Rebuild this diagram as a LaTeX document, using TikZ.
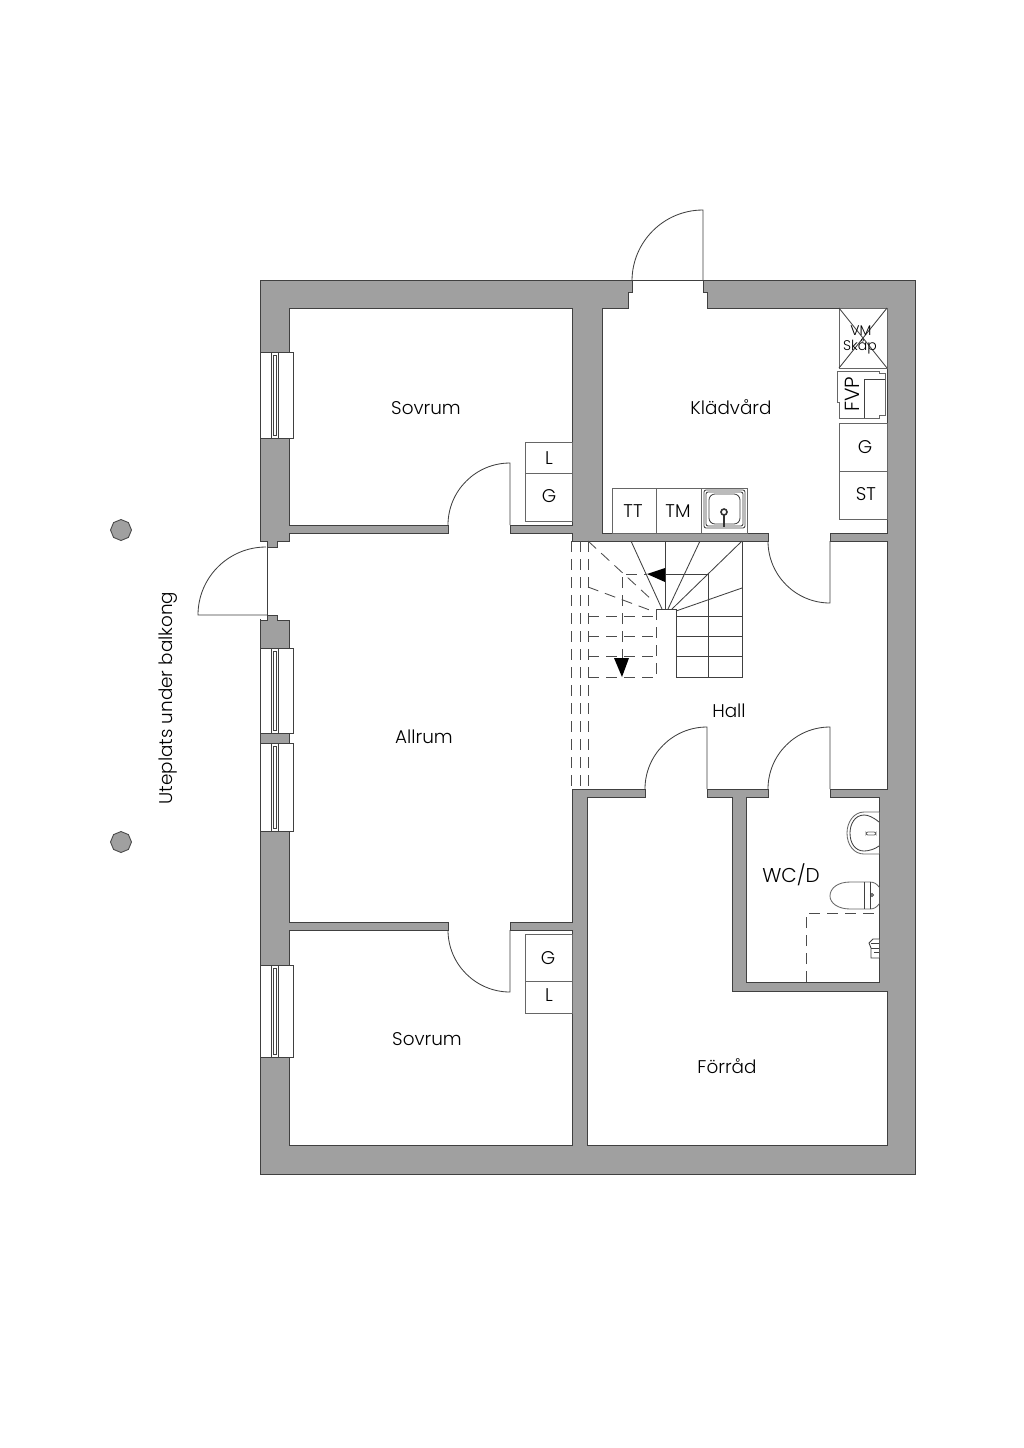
\documentclass[tikz,border=0pt]{standalone}
\usepackage{fontspec}
\setmainfont{Poppins Light}
\usetikzlibrary{shapes.geometric}
\definecolor{wallgray}{HTML}{A0A0A0}
\tikzset{
    wall/.style={draw=black!75, line width=0.5pt, fill=wallgray},
    floor/.style={draw=black!75, line width=0.5pt, fill=white},
    thin line/.style={draw=black!75, line width=0.42pt},
    hidden/.style={draw=black!70, line width=0.42pt, dash pattern=on 5.5pt off 3.5pt},
    fixture/.style={draw=black!60, line width=0.42pt, fill=white},
    room/.style={font=\fontsize{9.2}{11}\selectfont, inner sep=0pt},
    small/.style={font=\fontsize{7}{8}\selectfont, inner sep=0pt},
    pillar/.style={draw=black!70, fill=wallgray, line width=0.45pt, regular polygon, regular polygon sides=8, shape border rotate=22.5, minimum size=10.5pt, inner sep=0pt},
}
\begin{document}
\begin{tikzpicture}[x=0.5pt,y=-0.5pt]
    \useasboundingbox (0,0) rectangle (1024,1448);
    \fill[white] (0,0) rectangle (1024,1448);
    % walls and floor
    \draw[wall] (260,280) rectangle (915,1174);
    \draw[floor] (289,308) -- (572,308) -- (572,525) -- (510,525) -- (510,533) -- (572,533) -- (572,541)
        -- (768,541) -- (768,533) -- (602,533) -- (602,308) -- (628,308) -- (628,292) -- (632,292) -- (632,280) -- (703,280)
        -- (703,292) -- (707,292) -- (707,308) -- (887,308) -- (887,533) -- (830,533) -- (830,541)
        -- (887,541) -- (887,789) -- (830,789) -- (830,797) -- (879,797) -- (879,982) -- (746,982)
        -- (746,797) -- (768,797) -- (768,789) -- (707,789) -- (707,797) -- (732,797)
        -- (732,991) -- (887,991) -- (887,1145) -- (587,1145) -- (587,797) -- (645,797) -- (645,789)
        -- (572,789) -- (572,922) -- (510,922) -- (510,930) -- (572,930) -- (572,1145) -- (289,1145)
        -- (289,930) -- (448,930) -- (448,922) -- (289,922) -- (289,620) -- (277,620) -- (277,615)
        -- (267,615) -- (267,620) -- (260,620) -- (260,541) -- (267,541) -- (267,547) -- (277,547)
        -- (277,541) -- (289,541) -- (289,533) -- (448,533) -- (448,525) -- (289,525) -- cycle;
    \fill[white] (258,542) rectangle (266.5,619);
    % entrance doors
    \draw[thin line] (267,547) -- (267,615);
    % windows
    \foreach \ya/\yb in {352/438, 648/733, 743/831, 965/1057} {
        \draw[floor, line width=0.45pt] (260,\ya) rectangle (293,\yb);
        \draw[thin line] (271,\ya) rectangle (278,\yb);
        \draw[thin line] (273,\ya+3) rectangle (276,\yb-3);
    }
    % doors
    \draw[thin line] (267,615) -- (198,615) arc[start angle=180, end angle=270, radius=68];
    \draw[thin line] (703,280) -- (703,210) arc[start angle=270, end angle=180, radius=71];
    \foreach \xa/\ya in {510/525, 707/789, 830/789} {
        \draw[thin line] (\xa,\ya) -- (\xa,\ya-62) arc[start angle=270, end angle=180, radius=62];
    }
    \foreach \xa/\ya in {510/930, 830/541} {
        \draw[thin line] (\xa,\ya) -- (\xa,\ya+62) arc[start angle=90, end angle=180, radius=62];
    }
    % stairs
    \draw[thin line] (742,541) -- (742,677) -- (676,677) -- (676,609) -- (656,609);
    \draw[thin line] (708,677) -- (708,574) -- (665,574);
    \foreach \yy in {616,636,656} {
        \draw[thin line] (676,\yy) -- (742,\yy);
    }
    \draw[thin line] (631,541) -- (662,609);
    \draw[thin line] (665,541) -- (665,609);
    \draw[thin line] (700,541) -- (668,609);
    \draw[thin line] (742,541) -- (672,609);
    \draw[thin line] (742,588) -- (676,611);
    \fill[black] (647,574) -- (665,568) -- (665,582) -- cycle;
    \foreach \xx in {571.5,580,588} {
        \draw[hidden] (\xx,541) -- (\xx,789);
    }
    \foreach \yy in {616,636,656,677} {
        \draw[hidden] (588,\yy) -- (656,\yy);
    }
    \draw[hidden] (656,609) -- (656,677);
    \draw[hidden] (622,660) -- (622,574) -- (647,574);
    \draw[hidden] (588,541) -- (652,600);
    \draw[hidden] (588,587) -- (655,612);
    \fill[black] (622,677) -- (614,658) -- (629,658) -- cycle;
    % fixtures
    \draw[fixture] (525,442) rectangle (572,473);
    \draw[fixture] (525,473) rectangle (572,521);
    \draw[fixture] (525,934) rectangle (572,981);
    \draw[fixture] (525,981) rectangle (572,1013);
    \draw[fixture] (839,308) rectangle (887,368);
    \draw[thin line] (839,308) -- (887,368) (887,308) -- (839,368);
    \draw[fixture] (837,371) -- (879,371) -- (879,373) -- (885,373) -- (885,415) -- (879,415) -- (879,418) -- (839,418) -- (839,402) -- (837,402) -- cycle;
    \draw[thin line] (864,418) -- (864,379) -- (885,379);
    \draw[fixture] (839,423) rectangle (887,471);
    \draw[fixture] (839,471) rectangle (887,519);
    \draw[fixture] (612,488) rectangle (656,533);
    \draw[fixture] (656,488) rectangle (701,533);
    \draw[fixture] (701,488) rectangle (747,533);
    \draw[thin line, rounded corners=1pt] (704,490) rectangle (745,528);
    \draw[thin line, rounded corners=1pt] (706,492) rectangle (743,526);
    \draw[thin line, rounded corners=3pt] (709,494) rectangle (740,524);
    \draw[line width=0.8pt, black!80] (724,512) circle (3);
    \draw[line width=0.9pt, black!80] (724,515) -- (724,527);
    % wc
    \draw[fixture] (879,812) -- (864,812) .. controls (854,812) and (847,822) .. (847,833) .. controls (847,845) and (854,854) .. (864,854) -- (879,854);
    \draw[thin line] (879,822) .. controls (873,817) and (868,815) .. (864,815) .. controls (855,815) and (850,824) .. (850,833) .. controls (850,843) and (855,851) .. (864,851) .. controls (869,851) and (875,849) .. (879,846);
    \draw[fixture, rounded corners=1pt] (866,832) rectangle (876,835);
    \draw[fixture] (879,887) .. controls (877,884) and (874,882) .. (870,882) -- (850,882) .. controls (838,882) and (830,888) .. (830,896) .. controls (830,903) and (838,909) .. (850,909) -- (870,909) .. controls (874,909) and (877,907) .. (879,904);
    \draw[thin line] (864,882) -- (864,909) (870,882) -- (870,909);
    \draw[thin line] (872,895) circle (1.5);
    \draw[hidden] (806,982) -- (806,913) -- (879,913);
    \draw[thin line, fill=white] (879,939) -- (873,939) -- (869,943) -- (871,948) -- (871,958) -- (879,958);
    \draw[thin line] (871,943) -- (879,943) (871,948) -- (879,948) (874,952) -- (879,952);
    % pillars
    \node[pillar] (pillarA) at (121,530) {};
    \node[pillar] (pillarB) at (121,842) {};
    % labels
    \node[room] (sovrumA) at (426,408.5) {Sovrum};
    \node[room] (kladvard) at (731,407.5) {Klädvård};
    \node[room] (allrum) at (424,736.5) {Allrum};
    \node[room] (hall) at (729,710.5) {Hall};
    \node[room, font=\fontsize{10}{12}\selectfont] (wcd) at (791,875) {WC/D};
    \node[room] (forrad) at (727,1066.5) {Förråd};
    \node[room] (sovrumB) at (427,1039.5) {Sovrum};
    \node[room, rotate=90] (uteplats) at (168,698) {Uteplats under balkong};
    \node[room] (ltop) at (549,458) {L};
    \node[room] (gtop) at (549,496.5) {G};
    \node[room] (gbot) at (548,958.5) {G};
    \node[room] (lbot) at (549,995) {L};
    \node[room] (gkl) at (865,447.5) {G};
    \node[room] (stkl) at (866,494.5) {ST};
    \node[room] (tt) at (633,511) {TT};
    \node[room] (tm) at (678,511) {TM};
    \node[room, rotate=90, font=\fontsize{10.2}{12}\selectfont] (fvp) at (852.5,394) {FVP};
    \node[small] (vm) at (861,331) {VM};
    \node[small] (skap) at (860,347) {Skåp};
\end{tikzpicture}
\end{document}
